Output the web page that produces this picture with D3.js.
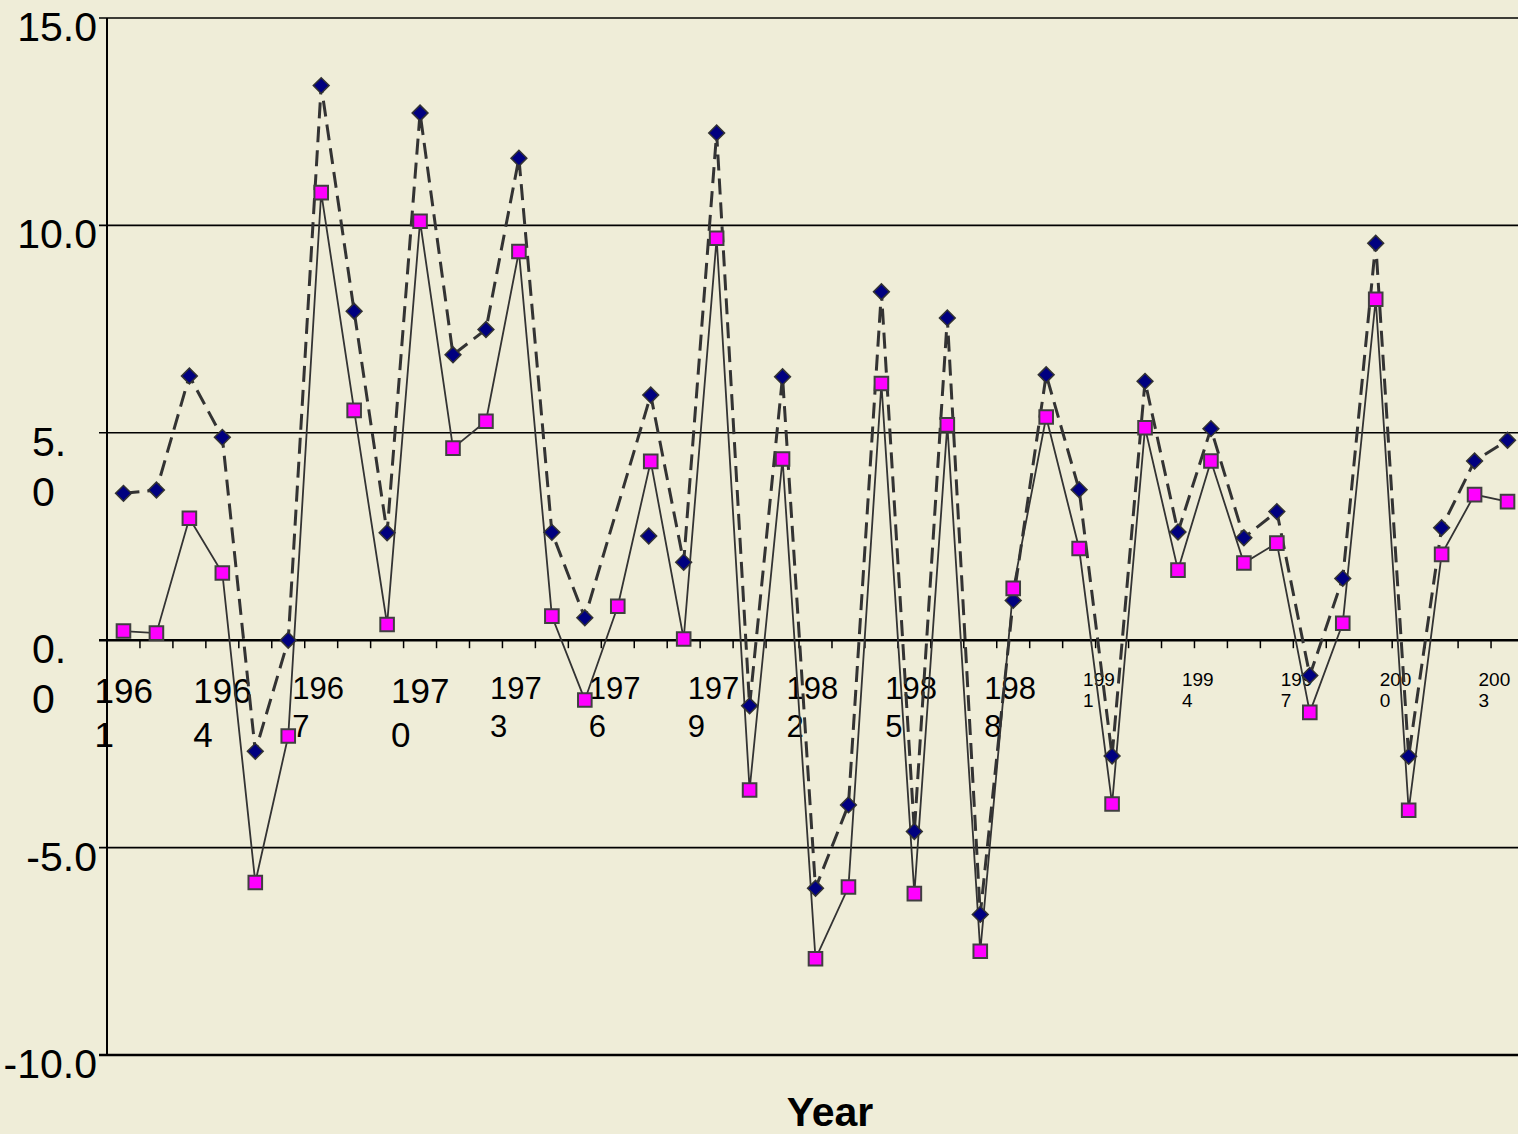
<!DOCTYPE html>
<html>
<head>
<meta charset="utf-8">
<script src="https://d3js.org/d3.v7.min.js"></script>
<style>
  html, body { margin: 0; padding: 0; background: #efedd8; }
  svg { display: block; font-family: "Liberation Sans", Arial, sans-serif; }
</style>
</head>
<body>
<svg id="chart"></svg>
<script>
// categories
const years = [1961, 1962, 1963, 1964, 1965, 1966, 1967, 1968, 1969, 1970,
  1971, 1972, 1973, 1974, 1975, 1976, 1977, 1978, 1979, 1980,
  1981, 1982, 1983, 1984, 1985, 1986, 1987, 1988, 1989, 1990,
  1991, 1992, 1993, 1994, 1995, 1996, 1997, 1998, 1999, 2000,
  2001, 2002, 2003];

// dashed series, diamond markers (1976 has no point)
const dashedValues = [3.54, 3.62, 6.37, 4.89, -2.68, 0.0, 13.37, 7.93, 2.59, 12.71,
  6.88, 7.49, 11.62, 2.60, 0.54, null, 5.91, 1.88, 12.23, -1.58,
  6.35, -5.98, -3.97, 8.40, -4.61, 7.77, -6.61, 0.96, 6.40, 3.63,
  -2.79, 6.24, 2.61, 5.10, 2.47, 3.10, -0.85, 1.49, 9.57, -2.80,
  2.71, 4.32, 4.82];

// solid series, square markers
const solidValues = [0.22, 0.17, 2.94, 1.62, -5.84, -2.31, 10.79, 5.54, 0.38, 10.10,
  4.63, 5.28, 9.37, 0.58, -1.44, 0.82, 4.31, 0.03, 9.69, -3.61,
  4.37, -7.68, -5.95, 6.19, -6.11, 5.19, -7.50, 1.25, 5.38, 2.21,
  -3.95, 5.12, 1.69, 4.32, 1.86, 2.34, -1.74, 0.41, 8.22, -4.10,
  2.07, 3.51, 3.34];

// a lone diamond that sits off the dashed line
const strayYears = [1977];
const strayValues = [2.51];

// tick labels
const yTicks = [-10, -5, 0, 5, 10, 15];
const labelYears = [1961, 1964, 1967, 1970, 1973, 1976, 1979, 1982, 1985, 1988,
  1991, 1994, 1997, 2000, 2003];
const xTitle = 'Year';

// chart geometry
const W = 1518, H = 1134;
const plotL = 107, plotR = 1524, plotT = 18, plotB = 1055;

const svg = d3.select('#chart')
  .attr('width', W)
  .attr('height', H)
  .attr('viewBox', `0 0 ${W} ${H}`);

svg.append('rect')
  .attr('width', W).attr('height', H)
  .attr('fill', '#efedd8');

const x = d3.scaleBand().domain(years).range([plotL, plotR]);
const cx = d => x(d) + x.bandwidth() / 2;
const y = d3.scaleLinear().domain([-10, 15]).range([plotB, plotT]);

// plain hyphen minus, one decimal
const fmt = d => d.toFixed(1);

// gridlines (with the little outside ticks on the left)
svg.append('g')
  .selectAll('line')
  .data(yTicks)
  .enter().append('line')
  .attr('x1', plotL - 8)
  .attr('x2', plotR)
  .attr('y1', d => y(d))
  .attr('y2', d => y(d))
  .attr('stroke', '#000')
  .attr('stroke-width', d => (d === 0 || d === -10) ? 2.6 : 1.6);

// left axis line
svg.append('line')
  .attr('x1', plotL).attr('x2', plotL)
  .attr('y1', y(15)).attr('y2', y(-10))
  .attr('stroke', '#000')
  .attr('stroke-width', 2);

// y labels, 5.0 and 0.0 wrap onto two lines like the original
const wrapped = [5, 0];
const yLab = svg.append('g')
  .attr('font-size', 41)
  .attr('fill', '#000');

yLab.selectAll('text.plain')
  .data(yTicks.filter(d => !wrapped.includes(d)))
  .enter().append('text')
  .attr('class', 'plain')
  .attr('x', plotL - 10)
  .attr('y', d => y(d) + 23)
  .attr('text-anchor', 'end')
  .text(fmt);

yLab.selectAll('text.wrap')
  .data(wrapped)
  .enter().append('text')
  .attr('class', 'wrap')
  .attr('x', 32)
  .attr('y', d => y(d) + 23)
  .each(function(d) {
    const s = fmt(d);
    const t = d3.select(this);
    t.append('tspan').attr('x', 32).text(s.slice(0, 2));
    t.append('tspan').attr('x', 32).attr('dy', 50).text(s.slice(2));
  });

// x ticks at category boundaries
svg.append('g')
  .selectAll('line')
  .data(years.slice(1).concat([null]))
  .enter().append('line')
  .attr('x1', d => d === null ? plotR : x(d))
  .attr('x2', d => d === null ? plotR : x(d))
  .attr('y1', y(0))
  .attr('y2', y(0) + 8)
  .attr('stroke', '#000')
  .attr('stroke-width', 1.5);

// x labels: broken after three digits, three sizes as in the original
function labelStyle(yr) {
  if (yr >= 1991) return { size: 19, b1: 46, gap: 21 };
  if (yr === 1961 || yr === 1964 || yr === 1970) return { size: 35, b1: 63, gap: 44 };
  return { size: 31, b1: 59, gap: 38 };
}

svg.append('g')
  .selectAll('text')
  .data(labelYears)
  .enter().append('text')
  .attr('fill', '#000')
  .each(function(d) {
    const st = labelStyle(d);
    const s = String(d);
    const tx = cx(d) - 29;
    const t = d3.select(this)
      .attr('font-size', st.size)
      .attr('x', tx)
      .attr('y', y(0) + st.b1);
    t.append('tspan').attr('x', tx).text(s.slice(0, 3));
    t.append('tspan').attr('x', tx).attr('dy', st.gap).text(s.slice(3));
  });

// axis title
svg.append('text')
  .attr('x', 830)
  .attr('y', 1126)
  .attr('text-anchor', 'middle')
  .attr('font-size', 41)
  .attr('font-weight', 'bold')
  .text(xTitle);

// series data
const dashed = years.map((yr, i) => ({ year: yr, value: dashedValues[i] }))
  .filter(d => d.value !== null);
const solid = years.map((yr, i) => ({ year: yr, value: solidValues[i] }));
const stray = strayYears.map((yr, i) => ({ year: yr, value: strayValues[i], stray: true }));

const line = d3.line()
  .x(d => cx(d.year))
  .y(d => y(d.value));

svg.append('path')
  .datum(dashed)
  .attr('d', line)
  .attr('fill', 'none')
  .attr('stroke', '#333')
  .attr('stroke-width', 3)
  .attr('stroke-dasharray', '16,8');

svg.append('path')
  .datum(solid)
  .attr('d', line)
  .attr('fill', 'none')
  .attr('stroke', '#333')
  .attr('stroke-width', 1.8);

// diamonds
const diamond = d3.symbol().type(d3.symbolSquare).size(125);
svg.append('g')
  .selectAll('path')
  .data(dashed.concat(stray))
  .enter().append('path')
  .attr('d', diamond)
  .attr('transform', d => `translate(${cx(d.year) - (d.stray ? 2 : 0)},${y(d.value)}) rotate(45)`)
  .attr('fill', '#000080')
  .attr('stroke', '#333')
  .attr('stroke-width', 1.5);

// squares
const square = d3.symbol().type(d3.symbolSquare).size(185);
svg.append('g')
  .selectAll('path')
  .data(solid)
  .enter().append('path')
  .attr('d', square)
  .attr('transform', d => `translate(${cx(d.year)},${y(d.value)})`)
  .attr('fill', '#ff00ff')
  .attr('stroke', '#404040')
  .attr('stroke-width', 2);
</script>
</body>
</html>
